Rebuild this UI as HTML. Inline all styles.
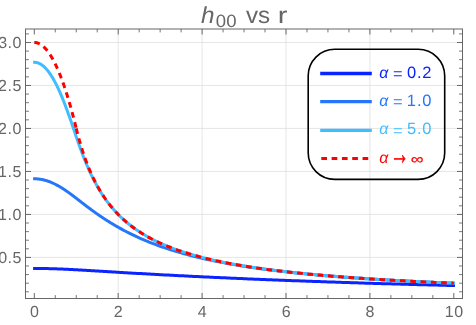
<!DOCTYPE html>
<html><head><meta charset="utf-8"><title>h00 vs r</title>
<style>
html,body{margin:0;padding:0;background:#fff;}
body{width:476px;height:325px;overflow:hidden;font-family:"Liberation Sans",sans-serif;}
svg{display:block;will-change:transform;}
text{font-family:"Liberation Sans",sans-serif;text-rendering:geometricPrecision;}
</style></head><body>
<svg width="476" height="325" viewBox="0 0 476 325">
<rect x="0" y="0" width="476" height="325" fill="#ffffff"/>
<g stroke="#dcdcdc" stroke-width="0.72" fill="none">
<line x1="118.20" y1="29.0" x2="118.20" y2="298.5"/>
<line x1="202.10" y1="29.0" x2="202.10" y2="298.5"/>
<line x1="286.00" y1="29.0" x2="286.00" y2="298.5"/>
<line x1="369.90" y1="29.0" x2="369.90" y2="298.5"/>
<line x1="25.5" y1="257.40" x2="462.5" y2="257.40"/>
<line x1="25.5" y1="214.42" x2="462.5" y2="214.42"/>
<line x1="25.5" y1="171.44" x2="462.5" y2="171.44"/>
<line x1="25.5" y1="128.45" x2="462.5" y2="128.45"/>
<line x1="25.5" y1="85.46" x2="462.5" y2="85.46"/>
<line x1="25.5" y1="42.48" x2="462.5" y2="42.48"/>
</g>
<clipPath id="c"><rect x="25.5" y="29.0" width="437.0" height="269.5"/></clipPath>
<g clip-path="url(#c)" fill="none" stroke-linejoin="round">
<polyline points="33.10,268.45 34.30,268.45 34.82,268.45 35.35,268.45 35.87,268.45 36.40,268.45 36.92,268.45 37.45,268.46 37.97,268.46 38.49,268.46 39.02,268.47 39.54,268.47 40.07,268.48 40.59,268.48 41.12,268.49 41.64,268.50 42.17,268.50 42.69,268.51 43.21,268.52 43.74,268.52 44.26,268.53 44.79,268.54 45.31,268.55 45.84,268.56 46.36,268.57 46.88,268.58 47.41,268.59 47.93,268.61 48.46,268.62 48.98,268.63 49.51,268.64 50.03,268.66 50.56,268.67 51.08,268.69 51.60,268.70 52.13,268.72 52.65,268.73 53.18,268.75 53.70,268.76 54.23,268.78 54.75,268.80 55.27,268.82 55.80,268.83 56.32,268.85 56.85,268.87 57.37,268.89 57.90,268.91 58.42,268.93 58.95,268.95 59.47,268.97 59.99,268.99 60.52,269.01 61.04,269.03 61.57,269.06 62.09,269.08 62.62,269.10 63.14,269.12 63.67,269.15 64.19,269.17 64.71,269.19 65.24,269.22 65.76,269.24 66.29,269.27 66.81,269.29 67.34,269.32 67.86,269.34 68.38,269.37 68.91,269.40 69.43,269.42 69.96,269.45 70.48,269.48 71.01,269.50 71.53,269.53 72.06,269.56 72.58,269.59 73.10,269.61 73.63,269.64 74.15,269.67 74.68,269.70 75.20,269.73 75.73,269.76 76.25,269.79 76.77,269.82 77.30,269.85 77.82,269.87 78.35,269.90 78.87,269.93 79.40,269.96 79.92,269.99 80.45,270.02 80.97,270.05 81.49,270.08 82.02,270.12 82.54,270.15 83.07,270.18 83.59,270.21 84.12,270.24 84.64,270.27 85.16,270.30 85.69,270.33 86.21,270.36 86.74,270.39 87.26,270.42 87.79,270.45 88.31,270.49 88.84,270.52 89.36,270.55 89.88,270.58 90.41,270.61 90.93,270.64 91.46,270.67 91.98,270.71 92.51,270.74 93.03,270.77 93.55,270.80 94.08,270.83 94.60,270.86 95.13,270.89 95.65,270.93 96.18,270.96 96.70,270.99 97.22,271.02 97.75,271.05 98.27,271.08 98.80,271.12 99.32,271.15 99.85,271.18 100.37,271.21 100.90,271.24 101.42,271.27 101.94,271.31 102.47,271.34 102.99,271.37 103.52,271.40 104.04,271.43 104.57,271.46 105.09,271.49 105.62,271.53 106.14,271.56 106.66,271.59 107.19,271.62 107.71,271.65 108.24,271.68 108.76,271.72 109.29,271.75 109.81,271.78 110.33,271.81 110.86,271.84 111.38,271.87 111.91,271.90 112.43,271.94 112.96,271.97 113.48,272.00 114.01,272.03 114.53,272.06 115.05,272.09 115.58,272.12 116.10,272.15 116.63,272.18 117.15,272.22 117.68,272.25 118.20,272.28 120.30,272.40 122.40,272.53 124.49,272.65 126.59,272.77 128.69,272.89 130.78,273.02 132.88,273.14 134.98,273.26 137.08,273.38 139.18,273.50 141.27,273.61 143.37,273.73 145.47,273.85 147.56,273.97 149.66,274.08 151.76,274.20 153.86,274.31 155.95,274.43 158.05,274.54 160.15,274.66 162.25,274.77 164.35,274.88 166.44,274.99 168.54,275.10 170.64,275.21 172.74,275.32 174.83,275.43 176.93,275.54 179.03,275.65 181.12,275.76 183.22,275.86 185.32,275.97 187.42,276.08 189.52,276.18 191.61,276.28 193.71,276.39 195.81,276.49 197.91,276.59 200.00,276.70 202.10,276.80 204.20,276.90 206.30,277.00 208.39,277.10 210.49,277.20 212.59,277.29 214.69,277.39 216.78,277.49 218.88,277.59 220.98,277.68 223.07,277.78 225.17,277.87 227.27,277.97 229.37,278.06 231.47,278.15 233.56,278.25 235.66,278.34 237.76,278.43 239.86,278.52 241.95,278.61 244.05,278.70 246.15,278.79 248.25,278.88 250.34,278.97 252.44,279.06 254.54,279.15 256.64,279.23 258.73,279.32 260.83,279.41 262.93,279.49 265.03,279.58 267.12,279.66 269.22,279.74 271.32,279.83 273.42,279.91 275.51,279.99 277.61,280.08 279.71,280.16 281.81,280.24 283.90,280.32 286.00,280.40 288.10,280.48 290.20,280.56 292.29,280.64 294.39,280.72 296.49,280.79 298.59,280.87 300.68,280.95 302.78,281.02 304.88,281.10 306.98,281.18 309.07,281.25 311.17,281.33 313.27,281.40 315.37,281.47 317.46,281.55 319.56,281.62 321.66,281.69 323.76,281.77 325.85,281.84 327.95,281.91 330.05,281.98 332.15,282.05 334.24,282.12 336.34,282.19 338.44,282.26 340.54,282.33 342.63,282.40 344.73,282.47 346.83,282.53 348.93,282.60 351.02,282.67 353.12,282.73 355.22,282.80 357.32,282.87 359.41,282.93 361.51,283.00 363.61,283.06 365.71,283.13 367.80,283.19 369.90,283.25 372.00,283.32 374.10,283.38 376.19,283.44 378.29,283.51 380.39,283.57 382.49,283.63 384.58,283.69 386.68,283.75 388.78,283.81 390.88,283.87 392.97,283.93 395.07,283.99 397.17,284.05 399.26,284.11 401.36,284.17 403.46,284.23 405.56,284.28 407.66,284.34 409.75,284.40 411.85,284.46 413.95,284.51 416.05,284.57 418.14,284.63 420.24,284.68 422.34,284.74 424.44,284.79 426.53,284.85 428.63,284.90 430.73,284.96 432.83,285.01 434.92,285.06 437.02,285.12 439.12,285.17 441.22,285.22 443.31,285.27 445.41,285.33 447.51,285.38 449.61,285.43 451.70,285.48 453.80,285.53 455.00,285.56" stroke="#0a24ff" stroke-width="3.0"/>
<polyline points="33.10,178.78 34.30,178.78 34.82,178.78 35.35,178.80 35.87,178.81 36.40,178.84 36.92,178.87 37.45,178.91 37.97,178.95 38.49,179.01 39.02,179.07 39.54,179.14 40.07,179.21 40.59,179.29 41.12,179.38 41.64,179.47 42.17,179.58 42.69,179.68 43.21,179.80 43.74,179.92 44.26,180.05 44.79,180.19 45.31,180.33 45.84,180.48 46.36,180.64 46.88,180.80 47.41,180.97 47.93,181.14 48.46,181.33 48.98,181.52 49.51,181.71 50.03,181.91 50.56,182.12 51.08,182.33 51.60,182.55 52.13,182.78 52.65,183.01 53.18,183.25 53.70,183.49 54.23,183.74 54.75,184.00 55.27,184.26 55.80,184.53 56.32,184.80 56.85,185.08 57.37,185.36 57.90,185.65 58.42,185.94 58.95,186.24 59.47,186.55 59.99,186.85 60.52,187.17 61.04,187.49 61.57,187.81 62.09,188.14 62.62,188.47 63.14,188.80 63.67,189.14 64.19,189.49 64.71,189.84 65.24,190.19 65.76,190.54 66.29,190.90 66.81,191.27 67.34,191.63 67.86,192.00 68.38,192.38 68.91,192.75 69.43,193.13 69.96,193.51 70.48,193.90 71.01,194.29 71.53,194.67 72.06,195.07 72.58,195.46 73.10,195.85 73.63,196.25 74.15,196.65 74.68,197.05 75.20,197.45 75.73,197.86 76.25,198.26 76.77,198.66 77.30,199.07 77.82,199.47 78.35,199.88 78.87,200.29 79.40,200.69 79.92,201.10 80.45,201.50 80.97,201.91 81.49,202.32 82.02,202.72 82.54,203.12 83.07,203.53 83.59,203.93 84.12,204.33 84.64,204.74 85.16,205.14 85.69,205.54 86.21,205.93 86.74,206.33 87.26,206.73 87.79,207.12 88.31,207.52 88.84,207.91 89.36,208.30 89.88,208.69 90.41,209.08 90.93,209.47 91.46,209.85 91.98,210.24 92.51,210.62 93.03,211.00 93.55,211.38 94.08,211.76 94.60,212.13 95.13,212.51 95.65,212.88 96.18,213.25 96.70,213.62 97.22,213.99 97.75,214.36 98.27,214.72 98.80,215.08 99.32,215.45 99.85,215.80 100.37,216.16 100.90,216.52 101.42,216.87 101.94,217.22 102.47,217.58 102.99,217.92 103.52,218.27 104.04,218.62 104.57,218.96 105.09,219.30 105.62,219.64 106.14,219.98 106.66,220.31 107.19,220.65 107.71,220.98 108.24,221.31 108.76,221.64 109.29,221.97 109.81,222.29 110.33,222.62 110.86,222.94 111.38,223.26 111.91,223.58 112.43,223.89 112.96,224.21 113.48,224.52 114.01,224.83 114.53,225.14 115.05,225.45 115.58,225.76 116.10,226.06 116.63,226.36 117.15,226.66 117.68,226.96 118.20,227.26 120.30,228.43 122.40,229.58 124.49,230.70 126.59,231.79 128.69,232.86 130.78,233.91 132.88,234.92 134.98,235.92 137.08,236.89 139.18,237.84 141.27,238.77 143.37,239.68 145.47,240.57 147.56,241.43 149.66,242.28 151.76,243.10 153.86,243.91 155.95,244.70 158.05,245.47 160.15,246.23 162.25,246.96 164.35,247.68 166.44,248.39 168.54,249.08 170.64,249.75 172.74,250.41 174.83,251.05 176.93,251.68 179.03,252.30 181.12,252.90 183.22,253.49 185.32,254.07 187.42,254.63 189.52,255.19 191.61,255.73 193.71,256.26 195.81,256.78 197.91,257.29 200.00,257.79 202.10,258.27 204.20,258.75 206.30,259.22 208.39,259.68 210.49,260.13 212.59,260.57 214.69,261.00 216.78,261.43 218.88,261.84 220.98,262.25 223.07,262.65 225.17,263.04 227.27,263.43 229.37,263.80 231.47,264.17 233.56,264.54 235.66,264.89 237.76,265.24 239.86,265.59 241.95,265.93 244.05,266.26 246.15,266.58 248.25,266.90 250.34,267.22 252.44,267.53 254.54,267.83 256.64,268.13 258.73,268.42 260.83,268.71 262.93,268.99 265.03,269.27 267.12,269.54 269.22,269.81 271.32,270.08 273.42,270.34 275.51,270.59 277.61,270.84 279.71,271.09 281.81,271.34 283.90,271.58 286.00,271.81 288.10,272.04 290.20,272.27 292.29,272.50 294.39,272.72 296.49,272.94 298.59,273.15 300.68,273.37 302.78,273.57 304.88,273.78 306.98,273.98 309.07,274.18 311.17,274.38 313.27,274.57 315.37,274.76 317.46,274.95 319.56,275.14 321.66,275.32 323.76,275.50 325.85,275.68 327.95,275.85 330.05,276.02 332.15,276.20 334.24,276.36 336.34,276.53 338.44,276.69 340.54,276.85 342.63,277.01 344.73,277.17 346.83,277.33 348.93,277.48 351.02,277.63 353.12,277.78 355.22,277.93 357.32,278.07 359.41,278.21 361.51,278.36 363.61,278.50 365.71,278.63 367.80,278.77 369.90,278.91 372.00,279.04 374.10,279.17 376.19,279.30 378.29,279.43 380.39,279.55 382.49,279.68 384.58,279.80 386.68,279.93 388.78,280.05 390.88,280.17 392.97,280.28 395.07,280.40 397.17,280.52 399.26,280.63 401.36,280.74 403.46,280.85 405.56,280.96 407.66,281.07 409.75,281.18 411.85,281.29 413.95,281.39 416.05,281.50 418.14,281.60 420.24,281.70 422.34,281.80 424.44,281.90 426.53,282.00 428.63,282.10 430.73,282.20 432.83,282.29 434.92,282.39 437.02,282.48 439.12,282.57 441.22,282.67 443.31,282.76 445.41,282.85 447.51,282.94 449.61,283.02 451.70,283.11 453.80,283.20 455.00,283.25" stroke="#2676fc" stroke-width="3.0"/>
<polyline points="33.10,62.28 34.30,62.28 34.82,62.29 35.35,62.33 35.87,62.39 36.40,62.48 36.92,62.60 37.45,62.74 37.97,62.91 38.49,63.10 39.02,63.32 39.54,63.57 40.07,63.84 40.59,64.13 41.12,64.45 41.64,64.80 42.17,65.17 42.69,65.57 43.21,65.99 43.74,66.44 44.26,66.92 44.79,67.42 45.31,67.94 45.84,68.49 46.36,69.07 46.88,69.67 47.41,70.29 47.93,70.94 48.46,71.61 48.98,72.31 49.51,73.04 50.03,73.79 50.56,74.56 51.08,75.36 51.60,76.18 52.13,77.02 52.65,77.89 53.18,78.78 53.70,79.70 54.23,80.64 54.75,81.60 55.27,82.59 55.80,83.60 56.32,84.63 56.85,85.68 57.37,86.76 57.90,87.85 58.42,88.97 58.95,90.11 59.47,91.28 59.99,92.46 60.52,93.66 61.04,94.89 61.57,96.13 62.09,97.39 62.62,98.68 63.14,99.98 63.67,101.30 64.19,102.63 64.71,103.99 65.24,105.36 65.76,106.74 66.29,108.15 66.81,109.56 67.34,111.00 67.86,112.44 68.38,113.90 68.91,115.37 69.43,116.85 69.96,118.35 70.48,119.85 71.01,121.36 71.53,122.88 72.06,124.41 72.58,125.94 73.10,127.47 73.63,129.01 74.15,130.55 74.68,132.09 75.20,133.63 75.73,135.17 76.25,136.70 76.77,138.23 77.30,139.75 77.82,141.26 78.35,142.76 78.87,144.25 79.40,145.72 79.92,147.18 80.45,148.63 80.97,150.06 81.49,151.48 82.02,152.88 82.54,154.27 83.07,155.64 83.59,156.99 84.12,158.32 84.64,159.64 85.16,160.94 85.69,162.22 86.21,163.48 86.74,164.73 87.26,165.96 87.79,167.17 88.31,168.37 88.84,169.55 89.36,170.71 89.88,171.85 90.41,172.98 90.93,174.09 91.46,175.18 91.98,176.26 92.51,177.33 93.03,178.37 93.55,179.41 94.08,180.42 94.60,181.42 95.13,182.41 95.65,183.38 96.18,184.34 96.70,185.28 97.22,186.22 97.75,187.13 98.27,188.03 98.80,188.92 99.32,189.80 99.85,190.67 100.37,191.52 100.90,192.36 101.42,193.18 101.94,194.00 102.47,194.80 102.99,195.60 103.52,196.38 104.04,197.15 104.57,197.91 105.09,198.66 105.62,199.40 106.14,200.12 106.66,200.84 107.19,201.55 107.71,202.25 108.24,202.94 108.76,203.62 109.29,204.29 109.81,204.95 110.33,205.60 110.86,206.25 111.38,206.89 111.91,207.51 112.43,208.13 112.96,208.74 113.48,209.35 114.01,209.94 114.53,210.53 115.05,211.11 115.58,211.69 116.10,212.25 116.63,212.81 117.15,213.36 117.68,213.91 118.20,214.45 120.30,216.54 122.40,218.53 124.49,220.43 126.59,222.24 128.69,223.98 130.78,225.64 132.88,227.23 134.98,228.75 137.08,230.21 139.18,231.62 141.27,232.96 143.37,234.26 145.47,235.51 147.56,236.71 149.66,237.87 151.76,238.98 153.86,240.06 155.95,241.10 158.05,242.11 160.15,243.08 162.25,244.02 164.35,244.93 166.44,245.81 168.54,246.66 170.64,247.49 172.74,248.29 174.83,249.06 176.93,249.82 179.03,250.55 181.12,251.26 183.22,251.96 185.32,252.63 187.42,253.28 189.52,253.92 191.61,254.54 193.71,255.14 195.81,255.73 197.91,256.30 200.00,256.86 202.10,257.41 204.20,257.94 206.30,258.45 208.39,258.96 210.49,259.45 212.59,259.93 214.69,260.40 216.78,260.86 218.88,261.31 220.98,261.75 223.07,262.18 225.17,262.60 227.27,263.01 229.37,263.41 231.47,263.81 233.56,264.19 235.66,264.57 237.76,264.94 239.86,265.30 241.95,265.65 244.05,266.00 246.15,266.34 248.25,266.68 250.34,267.00 252.44,267.32 254.54,267.64 256.64,267.95 258.73,268.25 260.83,268.55 262.93,268.84 265.03,269.13 267.12,269.41 269.22,269.69 271.32,269.96 273.42,270.23 275.51,270.49 277.61,270.75 279.71,271.00 281.81,271.25 283.90,271.49 286.00,271.73 288.10,271.97 290.20,272.20 292.29,272.43 294.39,272.66 296.49,272.88 298.59,273.10 300.68,273.31 302.78,273.52 304.88,273.73 306.98,273.94 309.07,274.14 311.17,274.34 313.27,274.53 315.37,274.73 317.46,274.92 319.56,275.10 321.66,275.29 323.76,275.47 325.85,275.65 327.95,275.83 330.05,276.00 332.15,276.17 334.24,276.34 336.34,276.51 338.44,276.67 340.54,276.84 342.63,277.00 344.73,277.15 346.83,277.31 348.93,277.46 351.02,277.62 353.12,277.77 355.22,277.91 357.32,278.06 359.41,278.20 361.51,278.35 363.61,278.49 365.71,278.63 367.80,278.76 369.90,278.90 372.00,279.03 374.10,279.16 376.19,279.29 378.29,279.42 380.39,279.55 382.49,279.67 384.58,279.80 386.68,279.92 388.78,280.04 390.88,280.16 392.97,280.28 395.07,280.40 397.17,280.51 399.26,280.63 401.36,280.74 403.46,280.85 405.56,280.96 407.66,281.07 409.75,281.18 411.85,281.29 413.95,281.39 416.05,281.50 418.14,281.60 420.24,281.70 422.34,281.80 424.44,281.90 426.53,282.00 428.63,282.10 430.73,282.20 432.83,282.29 434.92,282.39 437.02,282.48 439.12,282.57 441.22,282.66 443.31,282.76 445.41,282.85 447.51,282.93 449.61,283.02 451.70,283.11 453.80,283.20 455.00,283.25" stroke="#3fbdff" stroke-width="3.0"/>
<polyline points="34.30,42.48 34.82,42.49 35.35,42.53 35.87,42.60 36.40,42.69 36.92,42.82 37.45,42.96 37.97,43.14 38.49,43.34 39.02,43.57 39.54,43.82 40.07,44.11 40.59,44.41 41.12,44.75 41.64,45.11 42.17,45.50 42.69,45.92 43.21,46.36 43.74,46.83 44.26,47.33 44.79,47.85 45.31,48.40 45.84,48.98 46.36,49.59 46.88,50.22 47.41,50.88 47.93,51.56 48.46,52.27 48.98,53.01 49.51,53.78 50.03,54.57 50.56,55.39 51.08,56.24 51.60,57.11 52.13,58.01 52.65,58.94 53.18,59.89 53.70,60.87 54.23,61.88 54.75,62.91 55.27,63.97 55.80,65.06 56.32,66.18 56.85,67.32 57.37,68.49 57.90,69.68 58.42,70.90 58.95,72.15 59.47,73.43 59.99,74.73 60.52,76.06 61.04,77.42 61.57,78.80 62.09,80.21 62.62,81.65 63.14,83.11 63.67,84.61 64.19,86.12 64.71,87.67 65.24,89.24 65.76,90.84 66.29,92.46 66.81,94.12 67.34,95.79 67.86,97.50 68.38,99.23 68.91,100.99 69.43,102.78 69.96,104.59 70.48,106.43 71.01,108.30 71.53,110.19 72.06,112.12 72.58,114.06 73.10,116.04 73.63,118.04 74.15,120.07 74.68,122.12 75.20,124.21 75.73,126.31 76.25,128.45" stroke="#ff0000" stroke-width="3.0" stroke-dasharray="5.7 4.61"/>
<polyline points="76.25,128.45 76.77,130.57 77.30,132.64 77.82,134.66 78.35,136.64 78.87,138.56 79.40,140.45 79.92,142.28 80.45,144.08 80.97,145.84 81.49,147.55 82.02,149.23 82.54,150.88 83.07,152.48 83.59,154.06 84.12,155.60 84.64,157.11 85.16,158.58 85.69,160.03 86.21,161.45 86.74,162.84 87.26,164.20 87.79,165.54 88.31,166.84 88.84,168.13 89.36,169.39 89.88,170.62 90.41,171.84 90.93,173.03 91.46,174.20 91.98,175.34 92.51,176.47 93.03,177.58 93.55,178.66 94.08,179.73 94.60,180.78 95.13,181.81 95.65,182.82 96.18,183.82 96.70,184.80 97.22,185.76 97.75,186.71 98.27,187.64 98.80,188.56 99.32,189.46 99.85,190.35 100.37,191.22 100.90,192.08 101.42,192.93 101.94,193.76 102.47,194.58 102.99,195.39 103.52,196.18 104.04,196.97 104.57,197.74 105.09,198.50 105.62,199.25 106.14,199.99 106.66,200.71 107.19,201.43 107.71,202.14 108.24,202.84 108.76,203.52 109.29,204.20 109.81,204.87 110.33,205.53 110.86,206.18 111.38,206.82 111.91,207.45 112.43,208.07 112.96,208.69 113.48,209.30 114.00,209.90 114.53,210.49 115.05,211.07 115.58,211.65 116.10,212.22 116.63,212.78 117.15,213.33 117.68,213.88 118.20,214.42 120.30,216.52 122.40,218.51 124.49,220.42 126.59,222.24 128.69,223.97 130.78,225.63 132.88,227.22 134.98,228.75 137.08,230.21 139.18,231.61 141.27,232.96 143.37,234.26 145.47,235.51 147.56,236.71 149.66,237.87 151.76,238.98 153.86,240.06 155.95,241.10 158.05,242.11 160.15,243.08 162.25,244.02 164.35,244.93 166.44,245.81 168.54,246.66 170.64,247.49 172.74,248.29 174.83,249.06 176.93,249.82 179.03,250.55 181.12,251.26 183.22,251.96 185.32,252.63 187.42,253.28 189.52,253.92 191.61,254.54 193.71,255.14 195.81,255.73 197.91,256.30 200.00,256.86 202.10,257.40 204.20,257.94 206.30,258.45 208.39,258.96 210.49,259.45 212.59,259.93 214.69,260.40 216.78,260.86 218.88,261.31 220.98,261.75 223.07,262.18 225.17,262.60 227.27,263.01 229.37,263.41 231.47,263.81 233.56,264.19 235.66,264.57 237.76,264.94 239.86,265.30 241.95,265.65 244.05,266.00 246.15,266.34 248.25,266.68 250.34,267.00 252.44,267.32 254.54,267.64 256.64,267.95 258.73,268.25 260.83,268.55 262.93,268.84 265.03,269.13 267.12,269.41 269.22,269.69 271.32,269.96 273.42,270.23 275.51,270.49 277.61,270.75 279.71,271.00 281.81,271.25 283.90,271.49 286.00,271.73 288.10,271.97 290.20,272.20 292.29,272.43 294.39,272.66 296.49,272.88 298.59,273.10 300.68,273.31 302.78,273.52 304.88,273.73 306.98,273.94 309.07,274.14 311.17,274.34 313.27,274.53 315.37,274.73 317.46,274.92 319.56,275.10 321.66,275.29 323.76,275.47 325.85,275.65 327.95,275.83 330.05,276.00 332.15,276.17 334.24,276.34 336.34,276.51 338.44,276.67 340.54,276.84 342.63,277.00 344.73,277.15 346.83,277.31 348.93,277.46 351.02,277.62 353.12,277.77 355.22,277.91 357.32,278.06 359.41,278.20 361.51,278.35 363.61,278.49 365.71,278.63 367.80,278.76 369.90,278.90 372.00,279.03 374.10,279.16 376.19,279.29 378.29,279.42 380.39,279.55 382.49,279.67 384.58,279.80 386.68,279.92 388.78,280.04 390.88,280.16 392.97,280.28 395.07,280.40 397.17,280.51 399.26,280.63 401.36,280.74 403.46,280.85 405.56,280.96 407.66,281.07 409.75,281.18 411.85,281.29 413.95,281.39 416.05,281.50 418.14,281.60 420.24,281.70 422.34,281.80 424.44,281.90 426.53,282.00 428.63,282.10 430.73,282.20 432.83,282.29 434.92,282.39 437.02,282.48 439.12,282.57 441.22,282.66 443.31,282.76 445.41,282.85 447.51,282.93 449.61,283.02 451.70,283.11 453.80,283.20" stroke="#ff0000" stroke-width="3.0" stroke-dasharray="5.7 4.61"/>
</g>
<g stroke="#676767" fill="none">
<rect x="25.5" y="29.0" width="437.00" height="269.50" stroke-width="1"/>
<path d="M34.30 298.5v-5.5M34.30 29.0v5.5" stroke-width="1"/>
<path d="M118.20 298.5v-5.5M118.20 29.0v5.5" stroke-width="1"/>
<path d="M202.10 298.5v-5.5M202.10 29.0v5.5" stroke-width="1"/>
<path d="M286.00 298.5v-5.5M286.00 29.0v5.5" stroke-width="1"/>
<path d="M369.90 298.5v-5.5M369.90 29.0v5.5" stroke-width="1"/>
<path d="M453.80 298.5v-5.5M453.80 29.0v5.5" stroke-width="1"/>
<path d="M55.27 298.5v-3.4M55.27 29.0v3.4" stroke-width="0.9"/>
<path d="M76.25 298.5v-3.4M76.25 29.0v3.4" stroke-width="0.9"/>
<path d="M97.22 298.5v-3.4M97.22 29.0v3.4" stroke-width="0.9"/>
<path d="M139.18 298.5v-3.4M139.18 29.0v3.4" stroke-width="0.9"/>
<path d="M160.15 298.5v-3.4M160.15 29.0v3.4" stroke-width="0.9"/>
<path d="M181.12 298.5v-3.4M181.12 29.0v3.4" stroke-width="0.9"/>
<path d="M223.07 298.5v-3.4M223.07 29.0v3.4" stroke-width="0.9"/>
<path d="M244.05 298.5v-3.4M244.05 29.0v3.4" stroke-width="0.9"/>
<path d="M265.03 298.5v-3.4M265.03 29.0v3.4" stroke-width="0.9"/>
<path d="M306.98 298.5v-3.4M306.98 29.0v3.4" stroke-width="0.9"/>
<path d="M327.95 298.5v-3.4M327.95 29.0v3.4" stroke-width="0.9"/>
<path d="M348.93 298.5v-3.4M348.93 29.0v3.4" stroke-width="0.9"/>
<path d="M390.88 298.5v-3.4M390.88 29.0v3.4" stroke-width="0.9"/>
<path d="M411.85 298.5v-3.4M411.85 29.0v3.4" stroke-width="0.9"/>
<path d="M432.83 298.5v-3.4M432.83 29.0v3.4" stroke-width="0.9"/>
<path d="M25.5 257.40h5.5M462.5 257.40h-5.5" stroke-width="1"/>
<path d="M25.5 214.42h5.5M462.5 214.42h-5.5" stroke-width="1"/>
<path d="M25.5 171.44h5.5M462.5 171.44h-5.5" stroke-width="1"/>
<path d="M25.5 128.45h5.5M462.5 128.45h-5.5" stroke-width="1"/>
<path d="M25.5 85.46h5.5M462.5 85.46h-5.5" stroke-width="1"/>
<path d="M25.5 42.48h5.5M462.5 42.48h-5.5" stroke-width="1"/>
<path d="M25.5 291.79h3.4M462.5 291.79h-3.4" stroke-width="0.9"/>
<path d="M25.5 283.20h3.4M462.5 283.20h-3.4" stroke-width="0.9"/>
<path d="M25.5 274.60h3.4M462.5 274.60h-3.4" stroke-width="0.9"/>
<path d="M25.5 266.00h3.4M462.5 266.00h-3.4" stroke-width="0.9"/>
<path d="M25.5 248.81h3.4M462.5 248.81h-3.4" stroke-width="0.9"/>
<path d="M25.5 240.21h3.4M462.5 240.21h-3.4" stroke-width="0.9"/>
<path d="M25.5 231.61h3.4M462.5 231.61h-3.4" stroke-width="0.9"/>
<path d="M25.5 223.02h3.4M462.5 223.02h-3.4" stroke-width="0.9"/>
<path d="M25.5 205.82h3.4M462.5 205.82h-3.4" stroke-width="0.9"/>
<path d="M25.5 197.23h3.4M462.5 197.23h-3.4" stroke-width="0.9"/>
<path d="M25.5 188.63h3.4M462.5 188.63h-3.4" stroke-width="0.9"/>
<path d="M25.5 180.03h3.4M462.5 180.03h-3.4" stroke-width="0.9"/>
<path d="M25.5 162.84h3.4M462.5 162.84h-3.4" stroke-width="0.9"/>
<path d="M25.5 154.24h3.4M462.5 154.24h-3.4" stroke-width="0.9"/>
<path d="M25.5 145.64h3.4M462.5 145.64h-3.4" stroke-width="0.9"/>
<path d="M25.5 137.05h3.4M462.5 137.05h-3.4" stroke-width="0.9"/>
<path d="M25.5 119.85h3.4M462.5 119.85h-3.4" stroke-width="0.9"/>
<path d="M25.5 111.26h3.4M462.5 111.26h-3.4" stroke-width="0.9"/>
<path d="M25.5 102.66h3.4M462.5 102.66h-3.4" stroke-width="0.9"/>
<path d="M25.5 94.06h3.4M462.5 94.06h-3.4" stroke-width="0.9"/>
<path d="M25.5 76.87h3.4M462.5 76.87h-3.4" stroke-width="0.9"/>
<path d="M25.5 68.27h3.4M462.5 68.27h-3.4" stroke-width="0.9"/>
<path d="M25.5 59.67h3.4M462.5 59.67h-3.4" stroke-width="0.9"/>
<path d="M25.5 51.08h3.4M462.5 51.08h-3.4" stroke-width="0.9"/>
<path d="M25.5 33.88h3.4M462.5 33.88h-3.4" stroke-width="0.9"/>
</g>
<g fill="#666666">
<text x="30.00" y="316.90" font-size="16.0px">0</text>
<text x="113.70" y="316.90" font-size="16.0px">2</text>
<text x="197.80" y="316.90" font-size="16.0px">4</text>
<text x="281.70" y="316.90" font-size="16.0px">6</text>
<text x="365.60" y="316.90" font-size="16.0px">8</text>
<text x="444.64 454.27" y="316.90" font-size="16.0px">10</text>
<text x="-1.83 7.55 12.42" y="262.55" font-size="16.0px">0.5</text>
<text x="-1.91 7.55 12.48" y="219.57" font-size="16.0px">1.0</text>
<text x="-1.91 7.55 12.42" y="176.59" font-size="16.0px">1.5</text>
<text x="-2.03 7.55 12.48" y="133.60" font-size="16.0px">2.0</text>
<text x="-2.03 7.55 12.42" y="90.61" font-size="16.0px">2.5</text>
<text x="-1.81 7.55 12.48" y="47.63" font-size="16.0px">3.0</text>
</g>
<g fill="#666666">
<text x="201.1" y="22.60" font-size="23.2px" font-style="italic" textLength="13.52" lengthAdjust="spacingAndGlyphs">h</text>
<text x="215.87" y="27.35" font-size="17.8px" textLength="20.65" lengthAdjust="spacingAndGlyphs">00</text>
<text x="246.02" y="22.60" font-size="23.2px" textLength="24.16" lengthAdjust="spacingAndGlyphs">vs</text>
<text x="277.86" y="22.60" font-size="23.2px" textLength="9.72" lengthAdjust="spacingAndGlyphs">r</text>
</g>
<rect x="308.2" y="49.3" width="136.50" height="130.05" rx="26.5" ry="26.5" fill="none" stroke="#000" stroke-width="1.6"/>
<line x1="320.2" y1="73.5" x2="371.8" y2="73.5" stroke="#0a24ff" stroke-width="3.3"/>
<g fill="#0a24ff">
<text x="379.16" y="77.60" font-size="16.0px" font-style="italic" textLength="9.07" lengthAdjust="spacingAndGlyphs">α</text>
<text x="393.1" y="78.75" font-size="16.0px" textLength="9.62" lengthAdjust="spacingAndGlyphs">=</text>
<text x="406.96 417.01 422.16" y="77.60" font-size="16.5px">0.2</text>
</g>
<line x1="320.2" y1="101.7" x2="371.8" y2="101.7" stroke="#2676fc" stroke-width="3.3"/>
<g fill="#2676fc">
<text x="379.16" y="105.80" font-size="16.0px" font-style="italic" textLength="9.07" lengthAdjust="spacingAndGlyphs">α</text>
<text x="393.1" y="106.95" font-size="16.0px" textLength="9.62" lengthAdjust="spacingAndGlyphs">=</text>
<text x="406.74 417.01 422.16" y="105.80" font-size="16.5px">1.0</text>
</g>
<line x1="320.2" y1="130.3" x2="371.8" y2="130.3" stroke="#3fbdff" stroke-width="3.3"/>
<g fill="#3fbdff">
<text x="379.16" y="134.40" font-size="16.0px" font-style="italic" textLength="9.07" lengthAdjust="spacingAndGlyphs">α</text>
<text x="393.1" y="135.55" font-size="16.0px" textLength="9.62" lengthAdjust="spacingAndGlyphs">=</text>
<text x="406.98 417.01 422.16" y="134.40" font-size="16.5px">5.0</text>
</g>
<line x1="321.3" y1="158.5" x2="371.8" y2="158.5" stroke="#ff0000" stroke-width="3.0" stroke-dasharray="5.7 4.61"/>
<g fill="#ff0000">
<text x="379.16" y="162.60" font-size="16.0px" font-style="italic" textLength="9.07" lengthAdjust="spacingAndGlyphs">α</text>
<text x="390.27" y="163.95" font-size="31px" stroke="#ff0000" stroke-width="0.5" stroke-linejoin="round" textLength="18.76" lengthAdjust="spacingAndGlyphs">→</text>
<text x="410.74" y="163.60" font-size="14.6px" stroke="#ff0000" stroke-width="0.2" stroke-linejoin="round" textLength="12.83" lengthAdjust="spacingAndGlyphs">∞</text>
</g>
</svg></body></html>
